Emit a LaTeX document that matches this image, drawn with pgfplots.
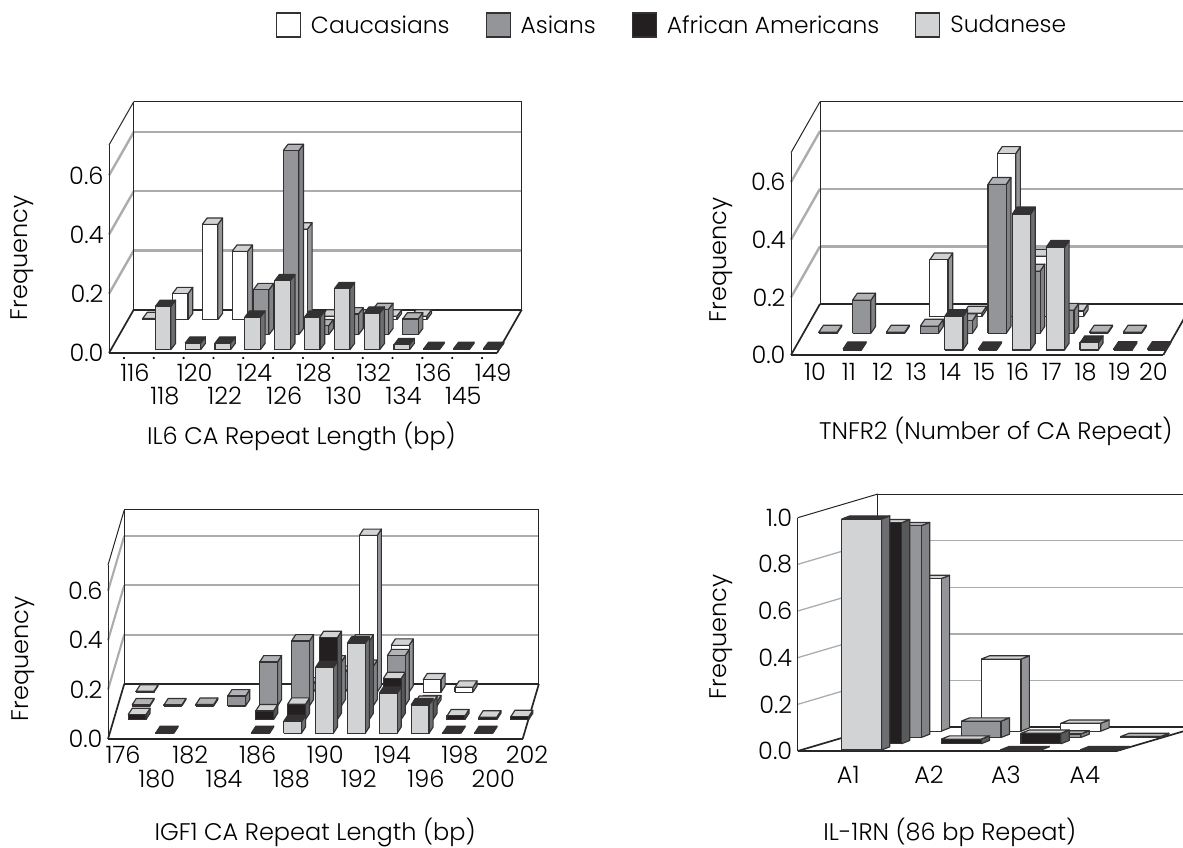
\documentclass[border=0pt]{standalone}
\usepackage{pgfplots}
\pgfplotsset{compat=1.18}
\usepackage{fontspec}
\setmainfont{Poppins Light}
\newcommand\lab{\fontsize{24}{28}\selectfont}
\newcommand\leg{\fontsize{23.4}{28}\selectfont}
\definecolor{edge}{HTML}{333132}
\definecolor{gr}{HTML}{ABACAF}
\pgfplotsset{
 bar3d/.style={forget plot,draw=edge,line width=1.15pt,line join=round},
 frontS/.style={bar3d,fill={rgb,255:red,209;green,211;blue,212}},
 topS/.style={bar3d,fill={rgb,255:red,51;green,49;blue,50}},
 sideS/.style={bar3d,fill={rgb,255:red,109;green,110;blue,113}},
 frontK/.style={bar3d,fill={rgb,255:red,35;green,31;blue,32}},
 topK/.style={bar3d,fill={rgb,255:red,209;green,211;blue,212}},
 sideK/.style={bar3d,fill={rgb,255:red,88;green,89;blue,91}},
 frontA/.style={bar3d,fill={rgb,255:red,147;green,149;blue,152}},
 topA/.style={bar3d,fill={rgb,255:red,177;green,179;blue,182}},
 sideA/.style={bar3d,fill={rgb,255:red,128;green,130;blue,133}},
 frontC/.style={bar3d,fill=white},
 topC/.style={bar3d,fill={rgb,255:red,209;green,211;blue,212}},
 sideC/.style={bar3d,fill={rgb,255:red,147;green,149;blue,152}},
 wall/.style={forget plot,draw=black!85,line width=1pt},
 floor/.style={forget plot,draw=black!85,line width=1.7pt},
 grid3d/.style={forget plot,draw=gr,line width=2.4pt},
 chart/.style={scale only axis,clip=false,axis line style={draw=none},major tick length=0pt,
   tick style={draw=none},tick label style={font=\lab},label style={font=\lab},
   xticklabel style={anchor=center},yticklabel style={anchor=east,xshift=-2pt},
   ylabel=Frequency,ylabel style={anchor=center,rotate=0}},
}
\newcommand\Br[4]{%
 \pgfmathsetmacro\xa{#3+\rowoff+#2*\rdx-\bw/2}%
 \pgfmathsetmacro\xb{\xa+\bw}%
 \pgfmathsetmacro\ya{\yo+#2*\rdy}%
 \pgfmathsetmacro\yb{\ya+#4}%
 \pgfmathsetmacro\xc{\xa+\tdx}%
 \pgfmathsetmacro\xd{\xb+\tdx}%
 \pgfmathsetmacro\yc{\yb+\tdy}%
 \pgfmathsetmacro\ye{\ya+\tdy}%
 \edef\tmp{\noexpand\addplot[side#1] coordinates {(\xb,\ya)(\xd,\ye)(\xd,\yc)(\xb,\yb)(\xb,\ya)};
  \noexpand\addplot[top#1] coordinates {(\xa,\yb)(\xb,\yb)(\xd,\yc)(\xc,\yc)(\xa,\yb)};
  \noexpand\addplot[front#1] coordinates {(\xa,\ya)(\xb,\ya)(\xb,\yb)(\xa,\yb)(\xa,\ya)};}%
 \tmp}
\newcommand\Ln[5]{% style, x1,y1,x2,y2
 \pgfmathsetmacro\pa{#2}\pgfmathsetmacro\pb{#3}\pgfmathsetmacro\pc{#4}\pgfmathsetmacro\pd{#5}%
 \edef\tmp{\noexpand\addplot[#1] coordinates {(\pa,\pb)(\pc,\pd)};}\tmp}
\newcommand\Gr[1]{%
 \Ln{grid3d}{\xL}{#1}{\xL+\ddx}{#1+\ddy}%
 \Ln{grid3d}{\xL+\ddx}{#1+\ddy}{\xR+\ddx}{#1+\ddy}}
\newcommand\Frame{%
 \Ln{wall}{\xL}{0}{\xL}{\ytop}%
 \Ln{wall}{\xL}{\ytop}{\xL+\ddx}{\ytop+\ddy}%
 \Ln{wall}{\xL+\ddx}{\ytop+\ddy}{\xR+\ddx}{\ytop+\ddy}%
 \Ln{wall}{\xL+\ddx}{\ddy}{\xL+\ddx}{\ytop+\ddy}%
 \Ln{wall}{\xR+\ddx}{\ddy}{\xR+\ddx}{\ytop+\ddy}%
 \Ln{floor}{\xL}{0}{\xR}{0}%
 \Ln{floor}{\xL}{0}{\xL+\ddx}{\ddy}%
 \Ln{floor}{\xR}{0}{\xR+\ddx}{\ddy}%
 \Ln{floor}{\xL+\ddx}{\ddy}{\xR+\ddx}{\ddy}}
\begin{document}
\begin{tikzpicture}[x=1pt,y=1pt]
\path[use as bounding box] (0,0) rectangle (1183,848);
% ---------- IL6
\def\rowoff{.31}\def\rdx{.288}\def\yo{.011}\def\rdy{.0507}\def\bw{.52}\def\tdx{.16}\def\tdy{.0214}
\def\xL{-.5}\def\xR{12.5}\def\ytop{.7027}\def\ddx{.83}\def\ddy{.1464}
\begin{axis}[chart,at={(109pt,495pt)},width=388pt,height=208pt,
 xmin=-.5,xmax=12.5,ymin=0,ymax=.7027,
 ytick={0,.2,.4,.6},yticklabels={0.0,0.2,0.4,0.6},
 xtick={.37,2.37,4.37,6.37,8.37,10.37,12.37},xticklabels={116,120,124,128,132,136,149},
 xticklabel style={yshift=-20pt},
 extra x ticks={1.37,3.37,5.37,7.37,9.37,11.37},extra x tick labels={118,122,126,130,134,145},
 extra x tick style={tick label style={yshift=-23pt}},
 ylabel style={at={(axis description cs:-.2243,.457)}},
 xlabel={IL6 CA Repeat Length (bp)},xlabel style={at={(axis description cs:.496,-.4)},anchor=center},
 legend columns=4,
 legend image code/.code={\draw[#1] (0pt,-12pt) rectangle (24pt,12pt);},
 legend style={at={(axis description cs:1.451,1.577)},anchor=center,draw=none,fill=none,font=\leg,
   /tikz/every odd column/.append style={column sep=8pt},
   /tikz/every even column/.append style={column sep=34pt}},
]
\addlegendimage{draw=edge,line width=1.1pt,fill=white}\addlegendentry{Caucasians}
\addlegendimage{draw=edge,line width=1.1pt,fill={rgb,255:red,147;green,149;blue,152}}\addlegendentry{Asians}
\addlegendimage{draw=edge,line width=1.1pt,fill={rgb,255:red,35;green,31;blue,32}}\addlegendentry{African Americans}
\addlegendimage{draw=edge,line width=1.1pt,fill={rgb,255:red,209;green,211;blue,212}}\addlegendentry{Sudanese}
\Gr{.2}\Gr{.4}\Gr{.6}\Frame
\addplot[forget plot,only marks,mark=*,mark size=.9pt,black] coordinates {(0,-.017)(1,-.017)(2,-.017)(3,-.017)(4,-.017)(5,-.017)(6,-.017)(7,-.017)(8,-.017)(9,-.017)(10,-.017)(11,-.017)(12,-.017)};
\Br{C}{2}{0}{.004}\Br{C}{2}{1}{.088}\Br{C}{2}{2}{.322}\Br{C}{2}{3}{.231}\Br{C}{2}{5}{.306}\Br{C}{2}{6}{.012}\Br{C}{2}{7}{.012}\Br{C}{2}{8}{.012}\Br{C}{2}{9}{.012}
\Br{A}{1}{4}{.152}\Br{A}{1}{5}{.622}\Br{A}{1}{6}{.03}\Br{A}{1}{7}{.07}\Br{A}{1}{8}{.085}\Br{A}{1}{9}{.053}
\Br{S}{0}{1}{.146}\Br{S}{0}{2}{.022}\Br{S}{0}{3}{.022}\Br{S}{0}{4}{.11}\Br{S}{0}{5}{.233}\Br{S}{0}{6}{.11}\Br{S}{0}{7}{.206}\Br{S}{0}{8}{.123}\Br{S}{0}{9}{.017}\Br{S}{0}{10}{.004}\Br{S}{0}{11}{.004}\Br{S}{0}{12}{.004}
\end{axis}
% ---------- TNFR2
\def\rowoff{.31}\def\rdx{.28}\def\yo{.0173}\def\rdy{.0578}\def\bw{.54}\def\tdx{.138}\def\tdy{.024}
\def\xL{-.5}\def\xR{10.5}\def\ytop{.702}\def\ddx{.857}\def\ddy{.177}
\begin{axis}[chart,at={(791pt,493pt)},width=372.3pt,height=202.3pt,
 xmin=-.5,xmax=10.5,ymin=0,ymax=.702,
 ytick={0,.2,.4,.6},yticklabels={0.0,0.2,0.4,0.6},
 xtick={.207,1.207,2.207,3.207,4.207,5.207,6.207,7.207,8.207,9.207,10.207},
 xticklabels={10,11,12,13,14,15,16,17,18,19,20},
 xticklabel style={yshift=-17pt},
 ylabel style={at={(axis description cs:-.188,.47)}},
 xlabel={TNFR2 (Number of CA Repeat)},xlabel style={at={(axis description cs:.55,-.376)},anchor=center},
]
\Gr{.2}\Gr{.4}\Gr{.6}\Frame
\Br{C}{2}{3}{.197}\Br{C}{2}{4}{.012}\Br{C}{2}{5}{.566}\Br{C}{2}{6}{.21}\Br{C}{2}{7}{.02}
\Br{A}{1}{0}{.004}\Br{A}{1}{1}{.115}\Br{A}{1}{2}{.004}\Br{A}{1}{3}{.025}\Br{A}{1}{4}{.044}\Br{A}{1}{5}{.517}\Br{A}{1}{6}{.216}\Br{A}{1}{7}{.08}\Br{A}{1}{8}{.004}\Br{A}{1}{9}{.004}
\Br{S}{0}{1}{.004}\Br{S}{0}{4}{.116}\Br{S}{0}{5}{.004}\Br{S}{0}{6}{.472}\Br{S}{0}{7}{.356}\Br{S}{0}{8}{.025}\Br{S}{0}{9}{.005}\Br{S}{0}{10}{.005}
\end{axis}
% ---------- IGF1
\def\rowoff{.285}\def\rdx{.125}\def\yo{.023}\def\rdy{.0555}\def\bw{.56}\def\tdx{.13}\def\tdy{.026}
\def\xL{-.5}\def\xR{12.5}\def\ytop{.705}\def\ddx{.51}\def\ddy{.223}
\begin{axis}[chart,at={(108pt,109pt)},width=421pt,height=174pt,
 xmin=-.5,xmax=12.7,ymin=0,ymax=.705,
 grid3d/.style={forget plot,draw=gr,line width=2.1pt},
 ytick={0,.2,.4,.6},yticklabels={0.0,0.2,0.4,0.6},
 xtick={-.03,2.08,4.19,6.31,8.42,10.53,12.64},xticklabels={176,182,186,190,194,198,202},
 xticklabel style={yshift=-16pt},
 extra x ticks={1.03,3.14,5.25,7.36,9.47,11.58},extra x tick labels={180,184,188,192,196,200},
 extra x tick style={tick label style={yshift=-24pt}},
 ylabel style={at={(axis description cs:-.202,.46)}},
 xlabel={IGF1 CA Repeat Length (bp)},xlabel style={at={(axis description cs:.492,-.54)},anchor=center},
]
\Gr{.2}\Gr{.4}\Gr{.6}\Frame
\Br{C}{3}{0}{.004}\Br{C}{3}{5}{.033}\Br{C}{3}{6}{.08}\Br{C}{3}{7}{.635}\Br{C}{3}{8}{.19}\Br{C}{3}{9}{.05}\Br{C}{3}{10}{.02}
\Br{A}{2}{0}{.004}\Br{A}{2}{1}{.004}\Br{A}{2}{2}{.006}\Br{A}{2}{3}{.04}\Br{A}{2}{4}{.178}\Br{A}{2}{5}{.263}\Br{A}{2}{6}{.178}\Br{A}{2}{7}{.16}\Br{A}{2}{8}{.203}\Br{A}{2}{9}{.016}
\Br{K}{1}{0}{.02}\Br{K}{1}{4}{.035}\Br{K}{1}{5}{.062}\Br{K}{1}{6}{.332}\Br{K}{1}{7}{.318}\Br{K}{1}{8}{.166}\Br{K}{1}{9}{.07}\Br{K}{1}{10}{.015}\Br{K}{1}{11}{.01}\Br{K}{1}{12}{.012}
\Br{S}{0}{1}{.003}\Br{S}{0}{4}{.003}\Br{S}{0}{5}{.047}\Br{S}{0}{6}{.266}\Br{S}{0}{7}{.365}\Br{S}{0}{8}{.162}\Br{S}{0}{9}{.115}\Br{S}{0}{10}{.003}\Br{S}{0}{11}{.003}
\end{axis}
% ---------- IL-1RN
\def\rowoff{.30}\def\rdx{.25}\def\yo{.004}\def\rdy{.027}\def\bw{.5}\def\tdx{.105}\def\tdy{.014}
\def\xL{-.5}\def\xR{3.5}\def\ytop{1}\def\ddx{1.004}\def\ddy{.1014}
\begin{axis}[chart,at={(797.7pt,97pt)},width=319pt,height=233.3pt,
 xmin=-.5,xmax=3.5,ymin=0,ymax=1,
 ytick={0,.2,.4,.6,.8,1},yticklabels={0.0,0.2,0.4,0.6,0.8,1.0},
 xtick={.134,1.146,2.11,3.1},xticklabels={A1,A2,A3,A4},
 xticklabel style={yshift=-24pt},
 ylabel style={at={(axis description cs:-.2406,.49)}},
 xlabel={IL-1RN (86 bp Repeat)},xlabel style={at={(axis description cs:.477,-.35)},anchor=center},
 grid3d/.style={forget plot,draw=gr,line width=1.3pt},
]
\Gr{.2}\Gr{.4}\Gr{.6}\Gr{.8}\Frame
\Br{C}{3}{0}{.654}\Br{C}{3}{1}{.309}\Br{C}{3}{2}{.034}
\Br{A}{2}{0}{.908}\Br{A}{2}{1}{.07}\Br{A}{2}{2}{.015}\Br{A}{2}{3}{.004}
\Br{K}{1}{0}{.947}\Br{K}{1}{1}{.02}\Br{K}{1}{2}{.045}
\Br{S}{0}{0}{.99}\Br{S}{0}{2}{.002}\Br{S}{0}{3}{.002}
\end{axis}
\end{tikzpicture}
\end{document}
